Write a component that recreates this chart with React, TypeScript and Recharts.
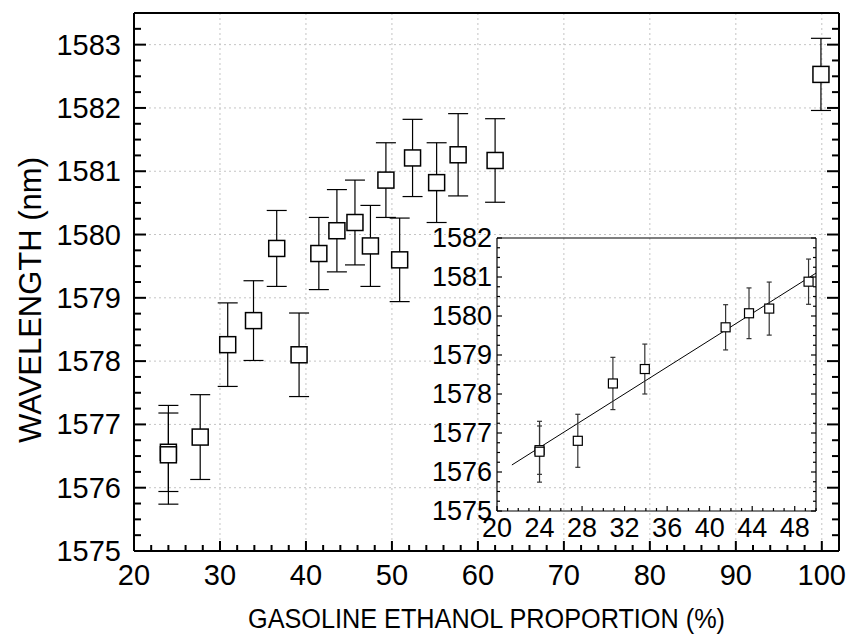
import React from 'react';
import {
  ComposedChart,
  Scatter,
  Line,
  ErrorBar,
  XAxis,
  YAxis,
  CartesianGrid,
} from 'recharts';

const FONT = '"Liberation Sans", Arial, Helvetica, sans-serif';

// main plot: ethanol proportion (%) vs peak wavelength (nm), err = half bar height
const mainX = [24, 24, 27.7, 30.9, 33.9, 36.6, 39.2, 41.5, 43.6, 45.7, 47.5, 49.3, 50.9, 52.4, 55.2, 57.7, 62, 99.9];
const mainY = [1576.56, 1576.52, 1576.8, 1578.26, 1578.64, 1579.78, 1578.1, 1579.7, 1580.06, 1580.19, 1579.82, 1580.86, 1579.6, 1581.21, 1580.82, 1581.26, 1581.17, 1582.53];
const mainErr = [0.62, 0.78, 0.67, 0.66, 0.63, 0.6, 0.66, 0.57, 0.65, 0.67, 0.64, 0.59, 0.66, 0.61, 0.63, 0.65, 0.66, 0.57];

// inset: linear region only
const insetX = [24, 24, 27.6, 30.9, 33.9, 41.5, 43.7, 45.6, 49.3];
const insetY = [1576.56, 1576.52, 1576.8, 1578.27, 1578.64, 1579.71, 1580.07, 1580.19, 1580.88];
const insetErr = [0.62, 0.78, 0.68, 0.67, 0.64, 0.58, 0.65, 0.68, 0.58];

// fitted line in the inset (end points)
const fitX = [21.4, 50];
const fitY = [1576.18, 1581.1];

// tick labels
const mainXTicks = [20, 30, 40, 50, 60, 70, 80, 90, 100];
const mainYTicks = [1575, 1576, 1577, 1578, 1579, 1580, 1581, 1582, 1583];
const insetXTicks = [20, 24, 28, 32, 36, 40, 44, 48];
const insetYTicks = [1575, 1576, 1577, 1578, 1579, 1580, 1581, 1582];

const mainData = mainX.map((x, i) => ({ x, y: mainY[i], err: mainErr[i] }));
const insetData = insetX.map((x, i) => ({ x, y: insetY[i], err: insetErr[i] }));
const fitData = fitX.map((x, i) => ({ x, y: fitY[i] }));

const range = (a: number, b: number, step: number) => {
  const out: number[] = [];
  for (let i = 0; a + i * step <= b + 1e-9; i++) out.push(+(a + i * step).toFixed(4));
  return out;
};

type Side = 'bottom' | 'top' | 'left' | 'right';

const makeTick =
  (side: Side, majors: number[], major: number, minor: number, sw: number, fontSize = 0, gap = 0) =>
  (props: any) => {
    const { x, y, payload } = props;
    const v = payload.value;
    const big = majors.some((m) => Math.abs(m - v) < 1e-6);
    const len = big ? major : minor;
    let l = { x1: x, y1: y, x2: x, y2: y };
    if (side === 'bottom') l.y2 = y - len;
    if (side === 'top') l.y2 = y + len;
    if (side === 'left') l.x2 = x + len;
    if (side === 'right') l.x2 = x - len;
    return (
      <g>
        <line {...l} stroke="#000" strokeWidth={sw} />
        {fontSize > 0 && big && side === 'bottom' && (
          <text x={x} y={y + gap} textAnchor="middle" dominantBaseline="central" fontSize={fontSize} fontFamily={FONT} fill="#000">
            {v}
          </text>
        )}
        {fontSize > 0 && big && side === 'left' && (
          <text x={x - gap} y={y} textAnchor="end" dominantBaseline="central" fontSize={fontSize} fontFamily={FONT} fill="#000">
            {v}
          </text>
        )}
      </g>
    );
  };

const square = (size: number, sw: number) => (p: any) =>
  <rect x={p.cx - size / 2} y={p.cy - size / 2} width={size} height={size} fill="#fff" stroke="#000" strokeWidth={sw} />;

const xTitle = (p: any) => {
  const vb = p.viewBox;
  return (
    <text
      x={vb.x + vb.width / 2}
      y={vb.y + 68}
      textAnchor="middle"
      dominantBaseline="central"
      fontSize={27}
      textLength={477}
      lengthAdjust="spacingAndGlyphs"
      fontFamily={FONT}
      fill="#000"
    >
      GASOLINE ETHANOL PROPORTION (%)
    </text>
  );
};

const yTitle = (p: any) => {
  const vb = p.viewBox;
  const cx = vb.x + 30;
  const cy = vb.y + vb.height / 2 + 18;
  return (
    <text x={cx} y={cy} transform={`rotate(-90, ${cx}, ${cy})`} textAnchor="middle" dominantBaseline="central" fontSize={31} fontFamily={FONT} fill="#000">
      WAVELENGTH (nm)
    </text>
  );
};

const axisLine = { stroke: '#000', strokeWidth: 2 };
const thinLine = { stroke: '#000', strokeWidth: 1.2 };

export default function App() {
  const mxTicks = range(20, 102, 2);
  const myTicks = range(1575, 1583.5, 0.25);
  const ixTicks = range(20, 50, 1);
  const iyTicks = range(1575, 1582, 0.25);

  return (
    <div style={{ position: 'absolute', left: 0, top: 0, width: 846, height: 639, background: '#fff' }}>
      <ComposedChart width={846} height={639} margin={{ top: 12, right: 6, bottom: 0, left: 0 }}>
        <CartesianGrid
          xAxisId="b"
          yAxisId="l"
          stroke="#c4c4c4"
          strokeDasharray="2 3"
          verticalValues={mainXTicks}
          horizontalValues={mainYTicks}
        />
        <XAxis
          xAxisId="b"
          dataKey="x"
          type="number"
          domain={[20, 102]}
          allowDataOverflow
          ticks={mxTicks}
          interval={0}
          tickSize={0}
          tickMargin={0}
          tickLine={false}
          axisLine={axisLine}
          height={88}
          tick={makeTick('bottom', mainXTicks, 10, 6, 2, 29, 24)}
          label={xTitle}
        />
        <XAxis
          xAxisId="t"
          orientation="top"
          type="number"
          domain={[20, 102]}
          allowDataOverflow
          ticks={mxTicks}
          interval={0}
          tickSize={0}
          tickMargin={0}
          tickLine={false}
          axisLine={axisLine}
          height={1}
          tick={makeTick('top', mainXTicks, 10, 6, 2)}
        />
        <YAxis
          yAxisId="l"
          type="number"
          domain={[1575, 1583.5]}
          allowDataOverflow
          ticks={myTicks}
          interval={0}
          tickSize={0}
          tickMargin={0}
          tickLine={false}
          axisLine={axisLine}
          width={134}
          tick={makeTick('left', mainYTicks, 12, 7, 2, 29, 13)}
          label={yTitle}
        />
        <YAxis
          yAxisId="r"
          orientation="right"
          type="number"
          domain={[1575, 1583.5]}
          allowDataOverflow
          ticks={myTicks}
          interval={0}
          tickSize={0}
          tickMargin={0}
          tickLine={false}
          axisLine={axisLine}
          width={1}
          tick={makeTick('right', mainYTicks, 12, 7, 2)}
        />
        <Scatter
          xAxisId="b"
          yAxisId="l"
          data={mainData}
          dataKey="y"
          isAnimationActive={false}
          shape={square(16, 1.5)}
        >
          <ErrorBar dataKey="err" direction="y" width={10} stroke="#000" strokeWidth={1.2} isAnimationActive={false} />
        </Scatter>
      </ComposedChart>

      <div style={{ position: 'absolute', left: 420, top: 220 }}>
        <ComposedChart width={410} height={340} margin={{ top: 17, right: 13, bottom: 0, left: 0 }}>
          <XAxis
            xAxisId="b"
            dataKey="x"
            type="number"
            domain={[20, 50]}
            allowDataOverflow
            ticks={ixTicks}
            interval={0}
            tickSize={0}
            tickMargin={0}
            tickLine={false}
            axisLine={thinLine}
            height={49}
            tick={makeTick('bottom', insetXTicks, 5, 3, 1.2, 27, 17)}
          />
          <XAxis
            xAxisId="t"
            orientation="top"
            type="number"
            domain={[20, 50]}
            allowDataOverflow
            ticks={ixTicks}
            interval={0}
            tickSize={0}
            tickMargin={0}
            tickLine={false}
            axisLine={thinLine}
            height={1}
            tick={makeTick('top', insetXTicks, 5, 3, 1.2)}
          />
          <YAxis
            yAxisId="l"
            type="number"
            domain={[1575, 1582]}
            allowDataOverflow
            ticks={iyTicks}
            interval={0}
            tickSize={0}
            tickMargin={0}
            tickLine={false}
            axisLine={thinLine}
            width={77}
            tick={makeTick('left', insetYTicks, 5, 3, 1.2, 27, 5)}
          />
          <YAxis
            yAxisId="r"
            orientation="right"
            type="number"
            domain={[1575, 1582]}
            allowDataOverflow
            ticks={iyTicks}
            interval={0}
            tickSize={0}
            tickMargin={0}
            tickLine={false}
            axisLine={thinLine}
            width={1}
            tick={makeTick('right', insetYTicks, 5, 3, 1.2)}
          />
          <Line
            xAxisId="b"
            yAxisId="l"
            data={fitData}
            dataKey="y"
            stroke="#000"
            strokeWidth={1}
            dot={false}
            activeDot={false}
            isAnimationActive={false}
          />
          <Scatter
            xAxisId="b"
            yAxisId="l"
            data={insetData}
            dataKey="y"
            isAnimationActive={false}
            shape={square(9, 1.2)}
          >
            <ErrorBar dataKey="err" direction="y" width={2.5} stroke="#333" strokeWidth={1.2} isAnimationActive={false} />
          </Scatter>
        </ComposedChart>
      </div>
    </div>
  );
}
